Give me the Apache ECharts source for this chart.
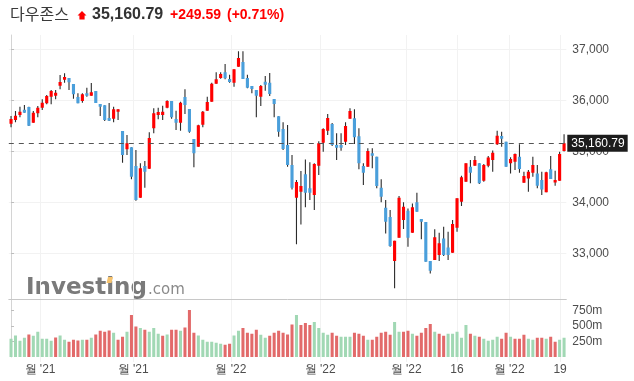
<!DOCTYPE html>
<html><head><meta charset="utf-8">
<script src="https://cdn.jsdelivr.net/npm/echarts@6/dist/echarts.min.js"></script>
<style>html,body{margin:0;padding:0;background:#fff}#c{width:634px;height:381px}</style>
</head><body><div id="c"></div>
<script>
// ---- data (125 candles) ----
const opens = [35545,35616,35714,35819,35871,35564,35747,35858,35943,36073,36093,36288,36406,36438,36321,36067,35988,36139,36093,36184,
35930,35903,35656,35643,35780,35401,35042,35082,34716,34096,34716,34664,35453,35714,35714,35858,35988,35636,35564,36067,
35832,35245,35095,35525,35799,35975,36328,36438,36549,36419,36347,36660,36751,36438,36282,36204,36073,36367,36347,36028,
35688,35440,35127,34735,34096,34214,34553,34279,34148,34722,35173,35408,35538,35127,35127,35193,35643,35649,35297,34716,
34703,34964,34899,34292,33900,33718,32857,33313,33659,33842,33411,34005,33679,33620,32857,32876,32974,33300,33124,33020,
33509,34018,34409,34703,34722,34768,34429,34722,34833,35140,35303,35193,34768,34801,34899,34390,34474,34585,34572,34442,
34201,34651,34396,34429,35009];
const highs = [35695,35793,35877,35910,35877,35793,35890,36021,36106,36204,36204,36497,36530,36438,36321,36139,36139,36249,36341,36184,
35930,35903,35949,35877,35825,35401,35323,35082,35030,34768,34814,35375,35845,35858,35897,36001,35988,35799,35975,36217,
35832,35245,35525,35793,36073,36347,36549,36549,36712,36504,36608,36960,36960,36504,36282,36204,36301,36477,36536,36028,
35688,35571,35518,34932,34442,34618,34846,34788,34768,35200,35453,35734,35558,35356,35356,35571,35845,35825,35453,34768,
35062,35062,34899,34455,34050,33855,33255,34129,34005,33887,33985,34194,33679,33620,32857,33477,33411,33529,33431,33659,
34083,34527,34768,34833,34912,34768,34755,34912,35020,35408,35388,35193,34886,34960,35140,34605,34638,34899,34735,34605,
34605,34912,34625,34997,35336];
const lows = [35473,35571,35669,35760,35500,35564,35669,35812,35923,35923,36021,36217,36347,36204,36034,35943,35956,36073,36093,35949,
35695,35597,35597,35571,35616,34781,34932,34455,34037,34096,34292,34660,35356,35630,35617,35845,35643,35421,35408,35734,
35369,34690,35095,35473,35799,35975,36328,36425,36412,36347,36269,36660,36419,36236,36139,35669,35890,36191,36086,35669,
35290,35030,34703,34259,33183,33574,33907,34050,33855,34540,34997,35323,35108,34833,35016,35127,35643,35147,34651,34344,
34703,34670,34279,34005,33398,33137,32322,33313,33483,33137,33411,33822,33281,32844,32615,32876,32857,32955,32876,33020,
33431,33933,34409,34377,34722,34364,34409,34690,34605,35127,35095,34703,34572,34638,34585,34390,34214,34507,34279,34148,
34201,34461,34331,34429,35000];
const closes = [35636,35701,35780,35760,35506,35760,35858,35956,36086,36184,36151,36360,36458,36354,36119,35943,36119,36093,36158,35949,
35878,35616,35603,35825,35825,34931,35160,34507,34050,34670,34605,35264,35747,35773,35780,35988,35669,35564,35956,35910,
35388,34964,35512,35780,35969,36328,36412,36517,36432,36360,36608,36830,36419,36249,36223,36093,36282,36308,36125,35930,
35388,35049,34735,34292,34403,34324,34194,34194,34755,35160,35440,35656,35127,35075,35075,35499,35793,35277,34768,34585,
35010,34918,34324,34116,33627,33150,33255,34096,33920,33313,33907,33822,33627,32844,32668,33320,33203,32974,32974,33581,
34083,34494,34768,34585,34833,34377,34735,34885,34977,35310,35251,34703,34853,34951,34657,34520,34605,34735,34331,34259,
34592,34461,34442,34951,35160.79];
// volume in millions, and whether the volume bar is drawn as an "up" (green) bar
const volumes = [295,348,263,311,364,343,407,295,295,263,316,348,279,247,279,268,279,279,311,364,
423,407,428,391,279,327,407,679,492,471,439,407,471,375,343,364,439,439,423,476,
759,391,348,279,247,247,231,215,199,215,348,423,471,391,375,439,359,311,343,391,
423,391,364,524,679,519,551,519,567,471,
391,359,391,343,327,327,327,391,375,343,279,279,327,391,407,359,567,407,407,423,
375,343,391,471,535,407,375,343,375,375,407,311,519,375,343,327,295,263,279,327,
295,391,327,295,295,359,295,279,311,311,295,327,247,279,311];
const volumeUp = [1,1,1,1,0,1,1,1,1,1,0,1,1,0,0,0,1,0,1,0,
0,0,0,1,0,0,1,0,0,1,0,1,1,1,0,1,0,0,1,0,
0,0,1,1,1,1,1,1,0,0,1,1,0,0,0,0,1,1,0,0,
0,0,0,0,1,0,0,0,1,1,
1,1,0,0,1,1,1,0,0,0,1,0,0,0,0,0,1,1,0,0,
1,0,0,0,0,1,0,0,1,1,1,1,1,0,1,0,1,1,1,1,
0,0,1,0,0,0,1,1,0,0,1,0,0,1,1];
const xTickPos = [6.5, 27.4, 49.3, 69.3, 88.6, 100, 111.7, 123.1];
const xTickLabels = ["월 '21", "월 '21", "월 '22", "월 '22", "월 '22", "16", "월 '22", "19"];
const priceTicks = [33000, 34000, 35000, 36000, 37000];
const volumeTicks = [250, 500, 750];
const indexName = '다우존스';
const lastPrice = 35160.79;
const priceChange = 249.59;
const pctChange = 0.71;

// ---- build ----
const candleData = opens.map((o, i) => [i, o, closes[i], lows[i], highs[i]]);
const volData = volumes.map((v, i) => [i, v, volumeUp[i]]);
const labelMap = {};
xTickPos.forEach((p, i) => { labelMap[p] = xTickLabels[i]; });
const fmt2 = v => v.toLocaleString('en-US', {minimumFractionDigits: 2, maximumFractionDigits: 2});

const UP = '#ff0000', DOWN = '#4a9fdb', WICK = '#2b2b2b';
const VUP = '#a1d8b4', VDOWN = '#e26a6a';
const GRIDC = '#f2f2f2', AXISC = '#d4d4d4', LABC = '#4d4d4d';
const FONT = '"Liberation Sans", Arial, sans-serif';

function renderCandle(params, api) {
  const x = api.value(0), o = api.value(1), c = api.value(2), l = api.value(3), h = api.value(4);
  const pH = api.coord([x, h]), pL = api.coord([x, l]), pO = api.coord([x, o]), pC = api.coord([x, c]);
  const w = api.size([1, 0])[0] * 0.7;
  const top = Math.min(pO[1], pC[1]);
  const ht = Math.max(1, Math.abs(pO[1] - pC[1]));
  return {type: 'group', children: [
    {type: 'line', shape: {x1: pH[0], y1: pH[1], x2: pL[0], y2: pL[1]}, style: {stroke: WICK, lineWidth: 1.1}},
    {type: 'rect', shape: {x: pO[0] - w / 2, y: top, width: w, height: ht}, style: {fill: c >= o ? UP : DOWN}}
  ]};
}
function renderVol(params, api) {
  const x = api.value(0), v = api.value(1), up = api.value(2);
  const p1 = api.coord([x, v]), p0 = api.coord([x, 0]);
  const w = api.size([1, 0])[0] * 0.68;
  return {type: 'rect', shape: {x: p1[0] - w / 2, y: p1[1], width: w, height: p0[1] - p1[1]}, style: {fill: up ? VUP : VDOWN}};
}

const chart = echarts.init(document.getElementById('c'), null, {renderer: 'canvas'});
const sign = priceChange >= 0 ? '+' : '';
chart.setOption({
  animation: false,
  backgroundColor: '#ffffff',
  textStyle: {fontFamily: FONT},
  grid: [
    {left: 8.8, right: 67.7, top: 35, height: 264.5},
    {left: 8.8, right: 67.7, top: 299.5, height: 57.5}
  ],
  xAxis: [
    {type: 'value', gridIndex: 0, min: -0.5, max: 124.5, position: 'bottom',
     axisLine: {show: true, onZero: false, lineStyle: {color: '#c8c8c8'}},
     axisTick: {show: false, customValues: xTickPos},
     axisLabel: {show: false, customValues: xTickPos},
     splitLine: {show: true, lineStyle: {color: GRIDC}}},
    {type: 'value', gridIndex: 1, min: -0.5, max: 124.5, position: 'bottom',
     axisLine: {show: false},
     axisTick: {show: true, length: 5, customValues: xTickPos, lineStyle: {color: GRIDC}},
     axisLabel: {customValues: xTickPos, formatter: v => labelMap[v] || '', color: LABC, fontSize: 12, margin: 7, fontFamily: FONT},
     splitLine: {show: true, lineStyle: {color: GRIDC}}}
  ],
  yAxis: [
    {type: 'value', gridIndex: 0, position: 'right', min: 32104, max: 37280,
     axisLine: {show: true, lineStyle: {color: AXISC}},
     axisTick: {show: true, length: 3, customValues: priceTicks, lineStyle: {color: '#bdbdbd'}},
     axisLabel: {customValues: priceTicks, formatter: v => v.toLocaleString('en-US'), color: LABC, fontSize: 12, margin: 6, fontFamily: FONT},
     splitLine: {show: true, lineStyle: {color: GRIDC}}},
    {type: 'value', gridIndex: 1, position: 'right', min: 0, max: 930,
     axisLine: {show: true, lineStyle: {color: AXISC}},
     axisTick: {show: true, length: 3, customValues: volumeTicks, lineStyle: {color: '#bdbdbd'}},
     axisLabel: {customValues: volumeTicks, formatter: v => v + 'm', color: LABC, fontSize: 12, margin: 6, fontFamily: FONT},
     splitLine: {show: false}}
  ],
  series: [
    {type: 'custom', name: 'price', xAxisIndex: 0, yAxisIndex: 0, renderItem: renderCandle, clip: true,
     encode: {x: 0, y: [1, 2, 3, 4]}, data: candleData, z: 3,
     markLine: {silent: true, symbol: 'none', animation: false,
       lineStyle: {type: [5, 5], color: '#555555', width: 1},
       label: {show: true, position: 'end', distance: 1, formatter: () => fmt2(lastPrice),
               color: '#ffffff', backgroundColor: '#1c1c1c', padding: [3, 3, 2, 4], fontSize: 12,
               fontFamily: FONT},
       data: [{yAxis: lastPrice}]}},
    {type: 'custom', name: 'volume', xAxisIndex: 1, yAxisIndex: 1, renderItem: renderVol, clip: true,
     encode: {x: 0, y: 1}, data: volData, z: 2}
  ],
  graphic: [
    {type: 'text', left: 10, top: 6, style: {text: indexName, font: '16px "Noto Sans CJK KR", sans-serif', fill: '#3a3a3a'}},
    {type: 'polygon', shape: {points: [[82, 11], [86.5, 15.5], [84.6, 15.5], [84.6, 19.5], [79.4, 19.5], [79.4, 15.5], [77.5, 15.5]]}, style: {fill: UP}},
    {type: 'text', x: 92, y: 15, style: {text: fmt2(lastPrice), font: 'bold 16px ' + FONT, fill: '#333333', verticalAlign: 'middle'}},
    {type: 'text', x: 170, y: 15, style: {text: sign + fmt2(priceChange), font: 'bold 14px ' + FONT, fill: UP, verticalAlign: 'middle'}},
    {type: 'text', x: 227, y: 15, style: {text: '(' + sign + pctChange.toFixed(2) + '%)', font: 'bold 14px ' + FONT, fill: UP, verticalAlign: 'middle'}},
    {type: 'group', z: 10, children: [
      {type: 'rect', shape: {x: 25, y: 276, width: 162, height: 27}, style: {fill: '#ffffff'}},
      {type: 'text', x: 26, y: 288, style: {text: 'Investing', font: 'bold 23px "DejaVu Sans", sans-serif', fill: '#7a7a7a', verticalAlign: 'middle'}},
      {type: 'text', x: 148, y: 290.5, style: {text: '.com', font: '15px "DejaVu Sans", sans-serif', fill: '#8a8a8a', verticalAlign: 'middle'}},
      {type: 'polygon', shape: {points: [[106.5, 283], [111.5, 283], [113, 277], [108, 277]]}, style: {fill: '#f6c36e'}}
    ]}
  ]
});
</script></body></html>
